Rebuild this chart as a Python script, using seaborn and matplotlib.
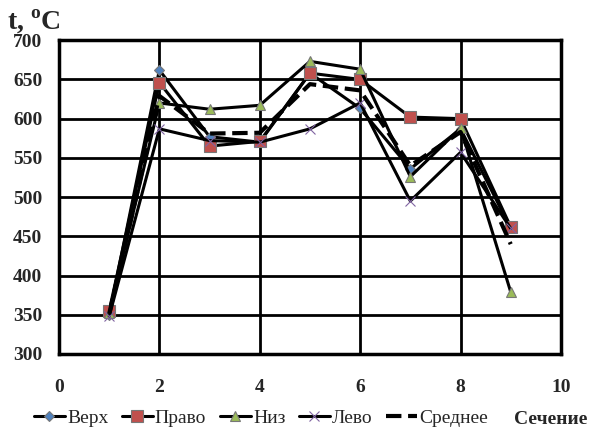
import matplotlib
matplotlib.use('Agg')
import matplotlib.pyplot as plt
import numpy as np
import pandas as pd
import seaborn as sns

# data
sections = [1, 2, 3, 4, 5, 6, 7, 8, 9]
verh = [350, 662, 577, 570, 658, 613, 536, 587, 460]
pravo = [355, 646, 565, 571, 658, 650, 602, 600, 462]
niz = [352, 620, 612, 617, 673, 663, 526, 588, 379]
levo = [348, 587, 572, 570, 587, 620, 495, 557, 460]
srednee = [351, 629, 581, 582, 644, 636, 540, 583, 440]

names = ['Верх', 'Право', 'Низ', 'Лево', 'Среднее']
series = [verh, pravo, niz, levo, srednee]
markers = ['D', 's', '^', 'x', None]
msizes = [5, 8, 7, 7, 0]
mcolors = ['#4F81BD', '#C0504D', '#9BBB59', '#8064A2', 'k']
styles = ['-', '-', '-', '-', '--']

sns.set_style('white')
plt.rcParams['font.family'] = ['Liberation Serif', 'DejaVu Serif']
plt.rcParams['mathtext.fontset'] = 'custom'
plt.rcParams['mathtext.rm'] = 'Liberation Serif:bold'
plt.rcParams['mathtext.bf'] = 'Liberation Serif:bold'

fig = plt.figure(figsize=(5.94, 4.37), dpi=100)
ax = fig.add_axes([0.0993, 0.19, 0.845, 0.718])

for name, vals, m, ms, mc, ls in zip(names, series, markers, msizes, mcolors, styles):
    df = pd.DataFrame({'x': sections, 'y': vals})
    kw = dict(color='k', linewidth=2.2 if ls == '-' else 3.0, linestyle=ls, label=name)
    if m is not None:
        kw.update(marker=m, markersize=ms, markerfacecolor=mc,
                  markeredgecolor=mc if m == 'x' else '#777777',
                  markeredgewidth=0.8)
    else:
        kw.update(dashes=(3, 2.5))
    sns.lineplot(data=df, x='x', y='y', ax=ax, **kw)

ax.set_xlim(0, 10)
ax.set_ylim(300, 700)
ax.set_xticks([0, 2, 4, 6, 8, 10])
ax.set_yticks(np.arange(300, 701, 50))
ax.grid(True, color='k', linewidth=2)
ax.set_axisbelow(True)
for s in ax.spines.values():
    s.set_color('k')
    s.set_linewidth(2.5)
ax.tick_params(axis='both', length=0, labelsize=14)
ax.tick_params(axis='x', pad=18)
ax.tick_params(axis='y', pad=12)
for lab in ax.get_xticklabels() + ax.get_yticklabels():
    lab.set_fontweight('bold')
ax.set_xlabel('')
ax.set_ylabel('')

leg = ax.legend(loc='center left', bbox_to_anchor=(-0.05, -0.205), ncol=5, frameon=False,
                fontsize=14, handlelength=1.6, handletextpad=0.1, columnspacing=0.7,
                borderpad=0, borderaxespad=0)

fig.text(0.012, 0.935, r't, $^{\mathregular{o}}$C', fontsize=20, fontweight='bold')
fig.text(0.865, 0.03, 'Сечение', fontsize=14, fontweight='bold')

fig.savefig('out.png', dpi=100)
